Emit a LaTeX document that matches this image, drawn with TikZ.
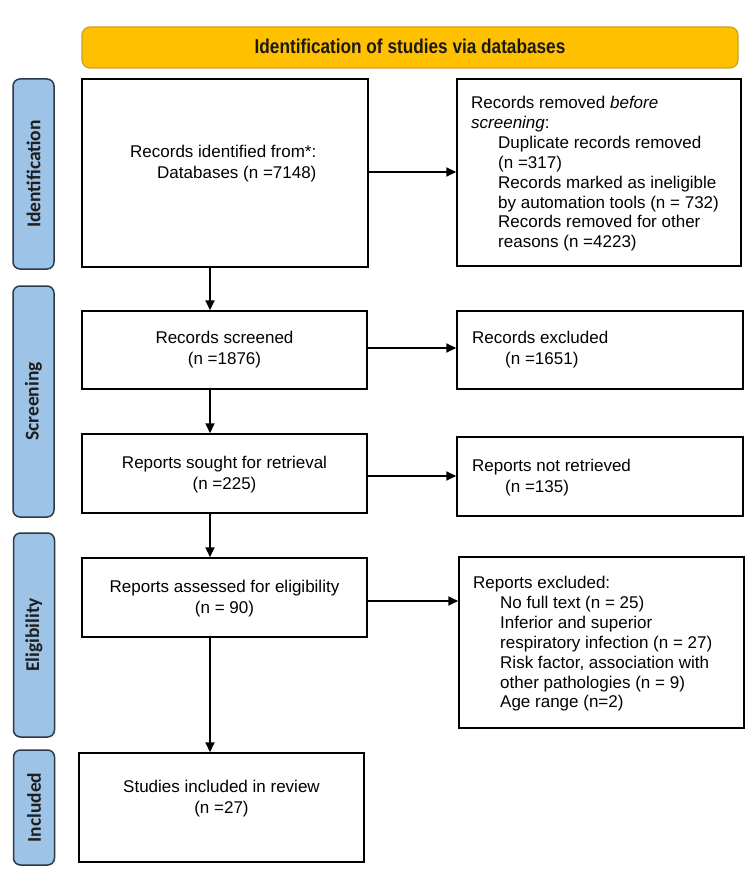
\documentclass[tikz,border=0pt]{standalone}
\usepackage{fontspec}
\setmainfont{Liberation Sans}
\newfontfamily\bannerfont[FakeStretch=0.86]{Liberation Sans}
\newfontfamily\labfont{Carlito}
\usetikzlibrary{arrows.meta}
\definecolor{bannerfill}{HTML}{FFC000}
\definecolor{bannerdraw}{HTML}{C9A227}
\definecolor{labfill}{HTML}{9DC3E6}
\definecolor{labdraw}{HTML}{2B3A4A}
\begin{document}
\begin{tikzpicture}[x=1pt,y=-1pt,
  box/.style={draw=black, line width=1.5pt, fill=white, inner sep=0pt},
  lab/.style={draw=labdraw, line width=1.5pt, fill=labfill, rounded corners=7pt,
    rotate=90, minimum height=41pt, inner sep=0pt,
    font=\labfont\bfseries\fontsize{19.5}{22}\selectfont, text=black!88},
  banner/.style={draw=bannerdraw, line width=1.2pt, fill=bannerfill, rounded corners=8pt,
    inner sep=0pt, font=\bannerfont\bfseries\fontsize{20}{24}\selectfont, text=black!90},
  ctxt/.style={inner sep=0pt, anchor=north, align=center, font=\fontsize{17}{21}\selectfont},
  ltxt/.style={inner sep=0pt, anchor=north west, align=left, font=\fontsize{17}{21}\selectfont},
  ltxtb/.style={inner sep=0pt, anchor=north west, align=left, font=\fontsize{17}{19.9}\selectfont},
  arr/.style={-{Triangle[length=10pt,width=9pt]}, line width=1.8pt},
]
\useasboundingbox (0,0) rectangle (750,893);

% banner
\node[banner, minimum width=656pt, minimum height=41pt] (ban) at (410,47.5)
  {\raisebox{1.5pt}{Identification of studies via databases}};

% phase labels
\node[lab, minimum width=190pt] (lid) at (33.5,174) {Identification};
\node[lab, minimum width=231pt] (lsc) at (33.5,401.5) {Screening};
\node[lab, minimum width=204pt] (lel) at (34,635) {Eligibility};
\node[lab, minimum width=115pt] (lin) at (34,807.5) {Included};

% left boxes
\node[box, minimum width=286pt, minimum height=188pt] (b1) at (225,173) {};
\node[box, minimum width=285pt, minimum height=78pt] (b2) at (224.5,350) {};
\node[box, minimum width=285pt, minimum height=79pt] (b3) at (224.5,473.5) {};
\node[box, minimum width=285pt, minimum height=79pt] (b4) at (224.5,597.5) {};
\node[box, minimum width=285pt, minimum height=109pt] (b5) at (221.5,807.5) {};

% right boxes
\node[box, minimum width=284pt, minimum height=187pt] (r1) at (599,172.5) {};
\node[box, minimum width=286pt, minimum height=78pt] (r2) at (600,350) {};
\node[box, minimum width=286pt, minimum height=79pt] (r3) at (600,476.5) {};
\node[box, minimum width=285pt, minimum height=171pt] (r4) at (601.5,642.5) {};

% texts
\node[ltxt] (t1) at (130,145) {Records identified from*:\\\hspace*{27pt}Databases (n =7148)};
\node[ctxt] (t2) at (224.5,331) {Records screened\\(n =1876)};
\node[ctxt] (t3) at (224.5,456) {Reports sought for retrieval\\(n =225)};
\node[ctxt] (t4) at (224.5,580) {Reports assessed for eligibility\\(n = 90)};
\node[ctxt] (t5) at (221.5,780) {Studies included in review\\(n =27)};

\node[ltxtb] (u1) at (471,96) {Records removed \textit{before}\\
  \textit{screening}:\\
  \hspace*{27pt}Duplicate records removed\\
  \hspace*{27pt}(n =317)\\
  \hspace*{27pt}Records marked as ineligible\\
  \hspace*{27pt}by automation tools (n = 732)\\
  \hspace*{27pt}Records removed for other\\
  \hspace*{27pt}reasons (n =4223)};
\node[ltxt] (u2) at (472,331) {Records excluded\\\hspace*{33pt}(n =1651)};
\node[ltxt] (u3) at (472,459) {Reports not retrieved\\\hspace*{33pt}(n =135)};
\node[ltxtb] (u4) at (473,576) {Reports excluded:\\
  \hspace*{27pt}No full text (n = 25)\\
  \hspace*{27pt}Inferior and superior\\
  \hspace*{27pt}respiratory infection (n = 27)\\
  \hspace*{27pt}Risk factor, association with\\
  \hspace*{27pt}other pathologies (n = 9)\\
  \hspace*{27pt}Age range (n=2)};

% connectors
\coordinate (cx) at (210,0);
\coordinate (h1) at (0,172);
\coordinate (h2) at (0,348);
\coordinate (h3) at (0,476);
\coordinate (h4) at (0,601);
\draw[arr] (cx |- b1.south) -- (cx |- b2.north);
\draw[arr] (cx |- b2.south) -- (cx |- b3.north);
\draw[arr] (cx |- b3.south) -- (cx |- b4.north);
\draw[arr] (cx |- b4.south) -- (cx |- b5.north);

\draw[arr] (b1.east |- h1) -- (r1.west |- h1);
\draw[arr] (b2.east |- h2) -- (r2.west |- h2);
\draw[arr] (b3.east |- h3) -- (r3.west |- h3);
\draw[arr] (b4.east |- h4) -- (r4.west |- h4);
\end{tikzpicture}
\end{document}
